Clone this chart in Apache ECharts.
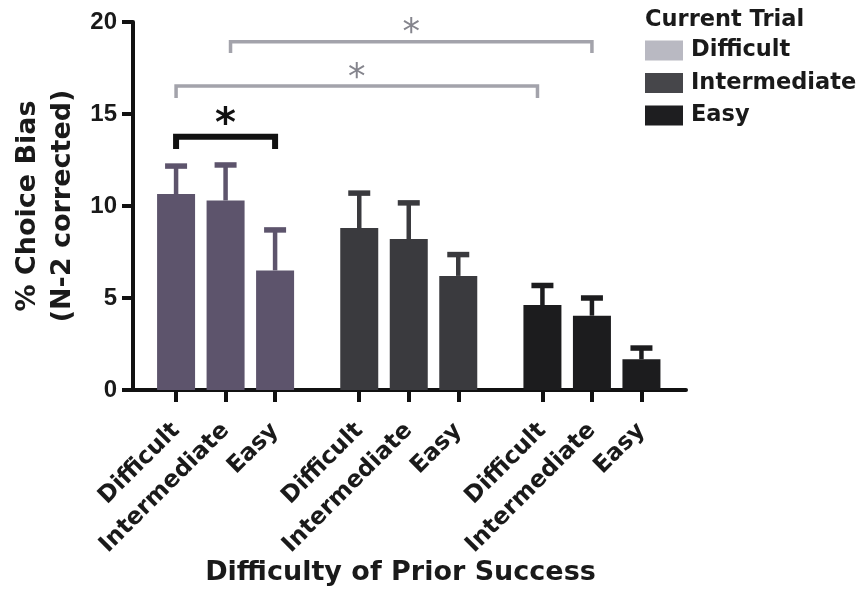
<!DOCTYPE html>
<html>
<head>
<meta charset="utf-8">
<script src="https://cdn.jsdelivr.net/npm/echarts@6/dist/echarts.min.js"></script>
<style>html,body{margin:0;padding:0;background:#fff}#c{width:860px;height:591px}</style>
</head>
<body>
<div id="c"></div>
<script>
// Current trial (groups / colours)
const currentTrial = ['Difficult', 'Intermediate', 'Easy'];
// Prior success (tick labels within each group)
const priorLabels = ['Difficult', 'Intermediate', 'Easy'];
// x positions of bars on the value axis (3 bars per group, gap between groups)
const xPosDifficult = [0, 1, 2];
const xPosIntermediate = [3.7, 4.7, 5.7];
const xPosEasy = [7.4, 8.4, 9.4];
// Mean % choice bias
const meanDifficult = [10.65, 10.3, 6.5];
const meanIntermediate = [8.8, 8.2, 6.2];
const meanEasy = [4.62, 4.04, 1.67];
// SEM (upper error)
const semDifficult = [1.52, 1.93, 2.2];
const semIntermediate = [1.9, 1.97, 1.16];
const semEasy = [1.06, 0.96, 0.61];
// y ticks
const yTicks = [0, 5, 10, 15, 20];
// significance brackets: [x1, x2, barY, legEndY, starY]
const bracketsBlack = [[0, 2, 13.77, 13.1, 14.9]];
const bracketsGray = [[0, 7.3, 16.52, 15.87, 17.4], [1.1, 8.4, 18.93, 18.32, 19.84]];

const groupColors = ['#5d546c', '#3a3a3e', '#1c1c1e'];
const legendColors = ['#b9b9c2', '#46464a', '#1e1e20'];
const FONT = 'DejaVu Sans';

const xPos = [xPosDifficult, xPosIntermediate, xPosEasy];
const means = [meanDifficult, meanIntermediate, meanEasy];
const sems = [semDifficult, semIntermediate, semEasy];
const allX = [].concat(xPosDifficult, xPosIntermediate, xPosEasy);
const allLabels = [].concat(priorLabels, priorLabels, priorLabels);

const chart = echarts.init(document.getElementById('c'), null, {renderer: 'canvas'});

const series = [];
for (let g = 0; g < 3; g++) {
  series.push({
    name: currentTrial[g],
    type: 'bar',
    barWidth: 38,
    barGap: '-100%',
    itemStyle: {color: groupColors[g]},
    data: xPos[g].map((x, i) => [x, means[g][i]]),
    z: 2
  });
  series.push({
    name: 'err-' + currentTrial[g],
    type: 'custom',
    z: 3,
    encode: {x: 0, y: [1, 2]},
    data: xPos[g].map((x, i) => [x, means[g][i], means[g][i] + sems[g][i]]),
    renderItem: (function (color) {
      return function (params, api) {
        const x = api.value(0);
        const p0 = api.coord([x, api.value(1)]);
        const p1 = api.coord([x, api.value(2)]);
        return {
          type: 'group',
          children: [
            {type: 'line', shape: {x1: p0[0], y1: p0[1], x2: p1[0], y2: p1[1]}, style: {stroke: color, lineWidth: 4.5}},
            {type: 'line', shape: {x1: p1[0] - 11, y1: p1[1], x2: p1[0] + 11, y2: p1[1]}, style: {stroke: color, lineWidth: 5.5}}
          ]
        };
      };
    })(groupColors[g])
  });
}

function bracketRenderer(color, lw, starColor, starFont, starSize) {
  return function (params, api) {
    const x1 = api.value(0), x2 = api.value(1), y = api.value(2), yl = api.value(3), ys = api.value(4);
    const a = api.coord([x1, yl]), b = api.coord([x1, y]), c = api.coord([x2, y]), d = api.coord([x2, yl]);
    const sy = api.coord([x1, ys])[1];
    return {
      type: 'group',
      children: [
        {type: 'polyline', shape: {points: [a, b, c, d]}, style: {stroke: color, lineWidth: lw, fill: null, lineJoin: 'miter'}},
        {type: 'text', x: (b[0] + c[0]) / 2, y: sy + starSize * 0.25,
          style: {text: '*', fill: starColor, font: starFont, align: 'center', verticalAlign: 'middle'}}
      ]
    };
  };
}

series.push({
  name: 'sig-gray', type: 'custom', z: 4,
  encode: {x: [0, 1], y: [2, 3]},
  data: bracketsGray,
  renderItem: bracketRenderer('#a3a3ab', 3.5, '#85858d', 'normal 35px "DejaVu Sans"', 35)
});
series.push({
  name: 'sig-black', type: 'custom', z: 4,
  encode: {x: [0, 1], y: [2, 3]},
  data: bracketsBlack,
  renderItem: bracketRenderer('#111', 6, '#111', 'bold 40px "DejaVu Sans"', 40)
});

const option = {
  animation: false,
  backgroundColor: '#fff',
  title: {
    text: 'Current Trial', left: 645, top: 9, padding: 0,
    textStyle: {fontFamily: FONT, fontWeight: 'bold', fontSize: 22.5, color: '#1a1a1a'}
  },
  legend: {
    data: currentTrial.map((n, i) => ({name: n, icon: 'rect', itemStyle: {color: legendColors[i]}})),
    orient: 'vertical', left: 645, top: 39, padding: 0,
    itemWidth: 38, itemHeight: 20, itemGap: 9.5,
    selectedMode: false,
    textStyle: {fontFamily: FONT, fontWeight: 'bold', fontSize: 22.5, color: '#1a1a1a', lineHeight: 20, padding: [0, 0, 0, 3]}
  },
  grid: {left: 133, right: 174, top: 22, bottom: 201, containLabel: false, outerBoundsMode: 'none'},
  xAxis: {
    type: 'value', min: -0.87, max: 10.3,
    name: 'Difficulty of Prior Success', nameLocation: 'middle', nameGap: 169, nameMoveOverlap: false,
    nameTextStyle: {fontFamily: FONT, fontWeight: 'bold', fontSize: 27, color: '#1a1a1a', padding: [0, 18, 0, 0]},
    splitLine: {show: false},
    axisLine: {show: true, onZero: false, lineStyle: {color: '#111', width: 4}},
    axisTick: {show: true, length: 12, customValues: allX, lineStyle: {color: '#111', width: 4}},
    axisLabel: {
      rotate: 45, margin: 37, customValues: allX,
      fontFamily: FONT, fontWeight: 'bold', fontSize: 23.5, color: '#1a1a1a',
      formatter: function (v) { const i = allX.indexOf(v); return i >= 0 ? allLabels[i] : ''; }
    }
  },
  yAxis: {
    type: 'value', min: 0, max: 20, interval: 5,
    name: '% Choice Bias\n(N-2 corrected)', nameLocation: 'middle', nameGap: 53, nameMoveOverlap: false,
    nameTextStyle: {fontFamily: FONT, fontWeight: 'bold', fontSize: 27, lineHeight: 35, color: '#1a1a1a'},
    splitLine: {show: false},
    axisLine: {show: true, onZero: false, lineStyle: {color: '#111', width: 4}},
    axisTick: {show: true, length: 11, lineStyle: {color: '#111', width: 4}},
    axisLabel: {
      margin: 16, fontFamily: 'Liberation Sans', fontWeight: 'bold', fontSize: 24, color: '#1a1a1a',
      customValues: yTicks
    }
  },
  series: series
};
chart.setOption(option);
</script>
</body>
</html>
